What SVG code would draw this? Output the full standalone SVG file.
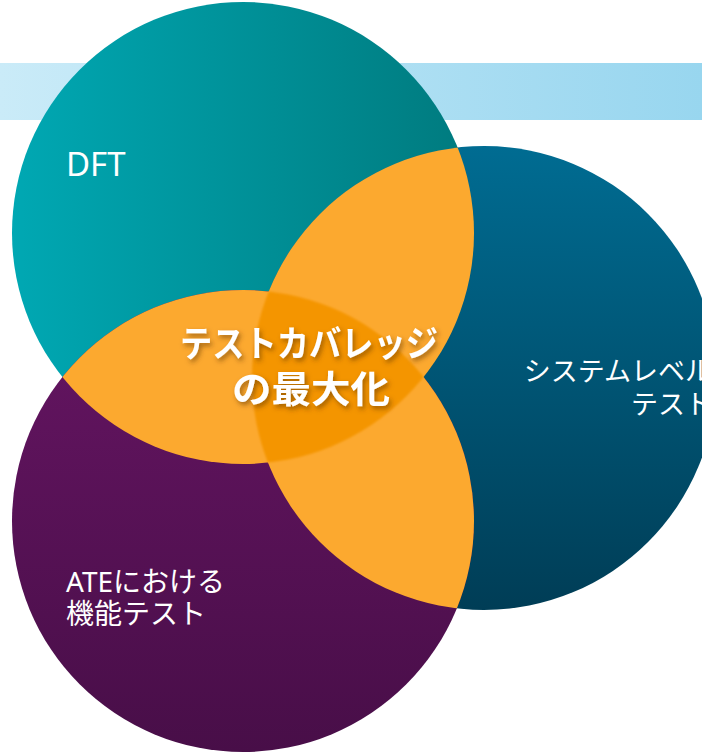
<svg xmlns="http://www.w3.org/2000/svg" width="702" height="752" viewBox="0 0 702 752">
  <style>
    .lbl { font-family: "Noto Sans", "Noto Sans CJK JP", sans-serif; fill: #ffffff; font-size: 28px; }
    .ttl { font-family: "Noto Sans CJK JP", sans-serif; fill: #ffffff; font-size: 36px; font-weight: bold; text-anchor: middle; }
    .orange { fill: #FCA92F; }
  </style>
  <defs>
    <linearGradient id="gBand" x1="0" y1="0" x2="1" y2="0">
      <stop offset="0" stop-color="#CAEBF8"/>
      <stop offset="1" stop-color="#98D6EF"/>
    </linearGradient>
    <linearGradient id="gTeal" x1="0" y1="0" x2="1" y2="0">
      <stop offset="0" stop-color="#00A8B3"/>
      <stop offset="1" stop-color="#007A7E"/>
    </linearGradient>
    <linearGradient id="gBlue" x1="0" y1="0" x2="0" y2="1">
      <stop offset="0" stop-color="#006C92"/>
      <stop offset="1" stop-color="#003D56"/>
    </linearGradient>
    <linearGradient id="gPurple" x1="0" y1="0" x2="0" y2="1">
      <stop offset="0" stop-color="#661563"/>
      <stop offset="1" stop-color="#480E48"/>
    </linearGradient>
    <clipPath id="cT"><circle cx="243" cy="233" r="231"/></clipPath>
    <clipPath id="cP"><circle cx="243" cy="521" r="231"/></clipPath>
    <clipPath id="cB"><circle cx="484" cy="378" r="232"/></clipPath>
    <filter id="soft" x="-10%" y="-10%" width="120%" height="120%">
      <feGaussianBlur stdDeviation="1.2"/>
    </filter>
    <filter id="shadow" x="-10%" y="-20%" width="120%" height="160%">
      <feDropShadow dx="2" dy="3" stdDeviation="2.5" flood-color="#5a3000" flood-opacity="0.55"/>
    </filter>
  </defs>

  <g id="band">
    <rect x="0" y="63" width="702" height="57" fill="url(#gBand)"/>
  </g>

  <g id="node-dft">
    <circle cx="243" cy="233" r="231" fill="url(#gTeal)"/>
  </g>
  <g id="node-slt">
    <circle cx="484" cy="378" r="232" fill="url(#gBlue)"/>
  </g>
  <g id="node-ate">
    <circle cx="243" cy="521" r="231" fill="url(#gPurple)"/>
  </g>

  <g id="overlaps">
    <circle class="orange" cx="243" cy="521" r="231" clip-path="url(#cT)"/>
    <circle class="orange" cx="484" cy="378" r="232" clip-path="url(#cT)"/>
    <circle class="orange" cx="484" cy="378" r="232" clip-path="url(#cP)"/>
    <g filter="url(#soft)">
      <g clip-path="url(#cT)">
        <circle cx="484" cy="378" r="232" fill="#F49500" clip-path="url(#cP)"/>
      </g>
    </g>
  </g>

  <g id="labels">
    <text class="lbl" x="66" y="176" style="font-size:33px">DFT</text>
    <text class="lbl" x="712" y="381" text-anchor="end" style="font-size:27px">システムレベル</text>
    <text class="lbl" x="712" y="414" text-anchor="end" style="font-size:27px">テスト</text>
    <text class="lbl" x="66" y="592">ATEにおける</text>
    <text class="lbl" x="66" y="624">機能テスト</text>
  </g>

  <g id="title" filter="url(#shadow)">
    <text class="ttl" x="309" y="357" textLength="258" lengthAdjust="spacingAndGlyphs">テストカバレッジ</text>
    <text class="ttl" x="311" y="403" style="font-size:37px" textLength="158" lengthAdjust="spacingAndGlyphs">の最大化</text>
  </g>
</svg>
